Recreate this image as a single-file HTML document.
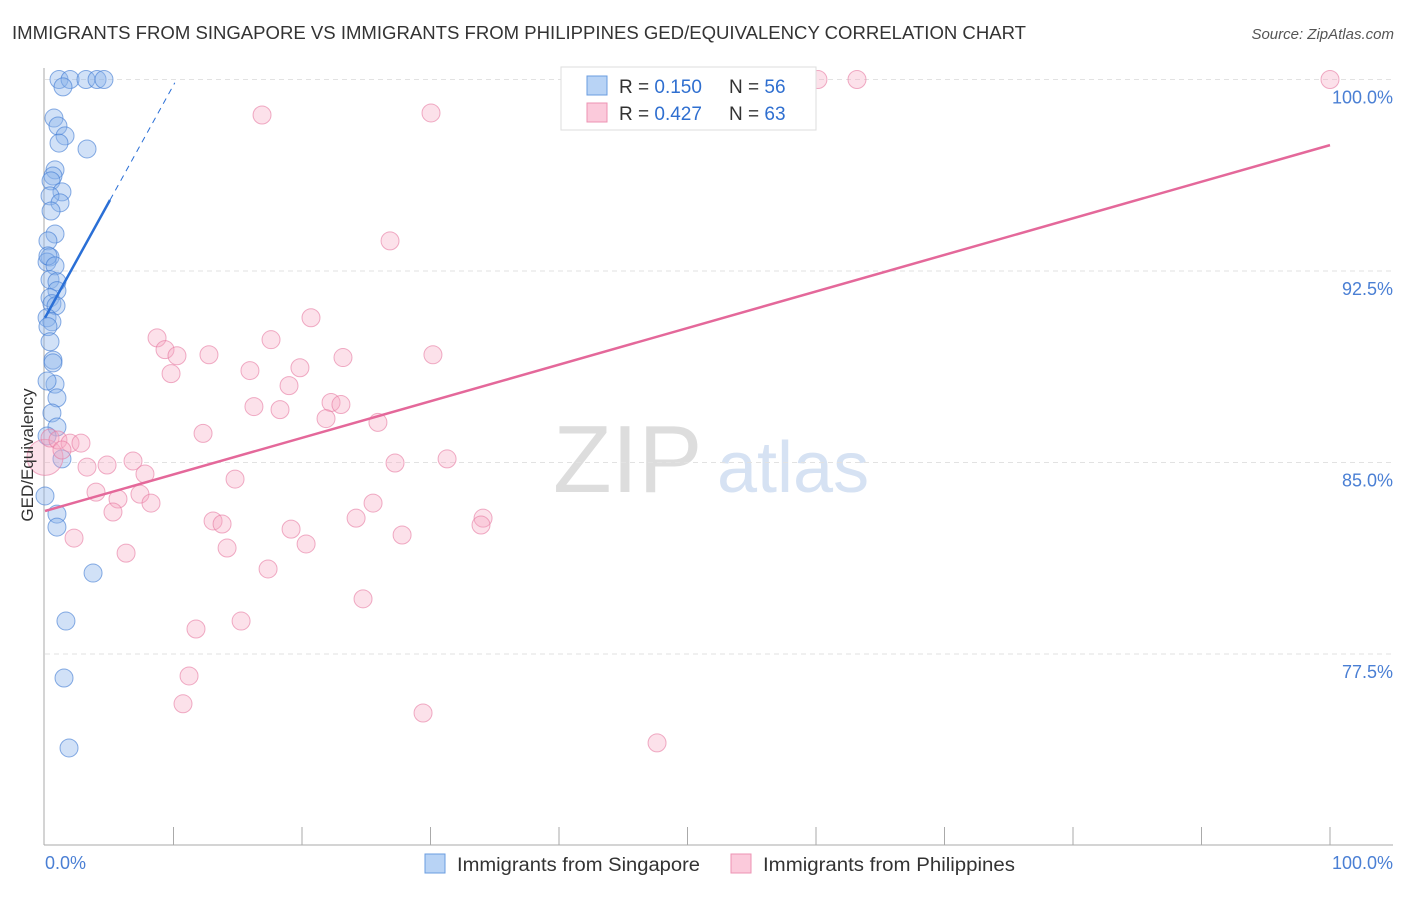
<!DOCTYPE html>
<html><head><meta charset="utf-8"><style>
body{margin:0;background:#fff;font-family:"Liberation Sans",sans-serif;}
svg text{font-family:"Liberation Sans",sans-serif;}
</style></head><body>
<svg id="chart" width="1406" height="892">
<text x="12" y="39" font-size="18" fill="#333" textLength="1014" lengthAdjust="spacingAndGlyphs">IMMIGRANTS FROM SINGAPORE VS IMMIGRANTS FROM PHILIPPINES GED/EQUIVALENCY CORRELATION CHART</text>
<text x="1394" y="39" font-size="15" fill="#555" font-style="italic" text-anchor="end">Source: ZipAtlas.com</text>
<g>
<text x="553" y="492" font-size="96" fill="#ddd" font-family="Liberation Serif">ZIP</text>
<text x="717" y="492" font-size="72" fill="#d6e2f3">atlas</text>
</g>
<g id="grid"></g><g id="axes"></g><g id="pts"></g><g id="trend"></g>
<text transform="translate(33,455) rotate(-90)" font-size="17" fill="#333" text-anchor="middle">GED/Equivalency</text>
<text x="45" y="869" font-size="18" fill="#4a7fd4">0.0%</text>
<text x="1393" y="869" font-size="18" fill="#4a7fd4" text-anchor="end">100.0%</text>
<g>
<rect x="561" y="67" width="255" height="63" fill="#fff" stroke="#ddd"/>
<rect x="587" y="76" width="20" height="19" fill="#b8d3f5" stroke="#6a9de0"/>
<rect x="587" y="103" width="20" height="19" fill="#fbcadb" stroke="#ec93b3"/>
<text x="619" y="93" font-size="19" fill="#333">R = <tspan fill="#2f6fd0">0.150</tspan></text>
<text x="729" y="93" font-size="19" fill="#333">N = <tspan fill="#2f6fd0">56</tspan></text>
<text x="619" y="120" font-size="19" fill="#333">R = <tspan fill="#2f6fd0">0.427</tspan></text>
<text x="729" y="120" font-size="19" fill="#333">N = <tspan fill="#2f6fd0">63</tspan></text>
</g>
<g><rect x="425" y="854" width="20" height="19" fill="#b8d3f5" stroke="#6a9de0"/><text x="457" y="871" font-size="19" fill="#333" textLength="243" lengthAdjust="spacingAndGlyphs">Immigrants from Singapore</text></g>
<g><rect x="731" y="854" width="20" height="19" fill="#fbcadb" stroke="#ec93b3"/><text x="763" y="871" font-size="19" fill="#333" textLength="252" lengthAdjust="spacingAndGlyphs">Immigrants from Philippines</text></g>
</svg>
<script>
const yTicks=[77.5,85.0,92.5,100.0];
const blueX=[1.09,1.95,3.19,4.05,4.59,1.40,0.70,1.01,1.56,1.09,3.27,0.78,0.62,0.47,1.32,0.39,1.17,0.47,0.78,0.23,0.39,0.16,0.23,0.78,0.39,0.93,0.93,0.39,0.54,0.86,0.16,0.54,0.23,0.39,0.62,0.62,0.78,0.16,0.93,0.54,0.93,0.16,1.32,0,0.93,0.93,3.74,1.63,1.48,1.87];
const blueY=[100,100,100,100,100,99.71,98.49,98.18,97.79,97.51,97.28,96.46,96.22,96.03,95.60,95.44,95.17,94.85,93.95,93.68,93.05,92.85,93.09,92.70,92.16,92.08,91.73,91.45,91.22,91.14,90.67,90.51,90.32,89.73,89.01,88.90,88.07,88.19,87.53,86.94,86.39,86.04,85.14,83.69,82.98,82.47,80.67,78.79,76.56,73.82];
const pinkX=[60.15,63.19,100,16.89,30.04,26.85,20.70,8.72,17.59,9.34,10.27,12.76,23.19,30.19,19.84,15.95,9.81,18.99,16.26,18.29,22.26,23.03,21.87,25.91,12.30,0,0.39,1.01,1.95,2.80,1.32,3.27,4.83,6.85,7.78,27.24,31.29,14.79,3.97,5.68,7.39,8.25,5.29,13.08,13.78,25.53,24.21,34.09,33.93,19.15,27.79,20.32,2.26,6.31,14.17,17.36,24.75,15.26,11.75,11.21,10.74,29.42,47.63];
const pinkY=[100,100,100,98.61,98.69,93.68,90.67,89.88,89.81,89.42,89.18,89.22,89.11,89.22,88.71,88.60,88.48,88.01,87.19,87.07,87.35,87.27,86.72,86.57,86.14,85.20,85.96,85.88,85.76,85.76,85.49,84.82,84.90,85.06,84.55,84.98,85.14,84.35,83.84,83.57,83.76,83.41,83.06,82.71,82.59,83.41,82.82,82.82,82.55,82.39,82.16,81.81,82.04,81.45,81.65,80.83,79.66,78.79,78.48,76.64,75.55,75.19,74.02];
const blueTrend=[90.67,95.28,5.06,10.1];
const pinkTrend=[83.10,97.43];
const X=v=>45+v*12.85, Y=v=>79.5+(100-v)*25.533;
const NS='http://www.w3.org/2000/svg';
function mk(t,a,p){const e=document.createElementNS(NS,t);for(const k in a)e.setAttribute(k,a[k]);p.appendChild(e);return e;}
const grid=document.getElementById('grid'),axes=document.getElementById('axes');
yTicks.forEach(t=>{
 const l=mk('line',{x1:45,x2:1393,y1:Y(t),y2:Y(t),stroke:'#e2e2e2','stroke-dasharray':'5,4'},grid);
 
 
 const tx=mk('text',{x:1393,y:Y(t)+24,'font-size':18,fill:'#4a7fd4','text-anchor':'end'},axes);
 tx.textContent=t.toFixed(1)+'%';
 
 
});
mk('line',{x1:44,x2:44,y1:68,y2:845,stroke:'#aaa'},axes);
mk('line',{x1:44,x2:1393,y1:845,y2:845,stroke:'#aaa'},axes);
for(let i=1;i<=10;i++){mk('line',{x1:X(i*10),x2:X(i*10),y1:827,y2:845,stroke:'#aaa'},axes);}
const pts=document.getElementById('pts');
blueX.forEach((v,i)=>{
 const c=mk('circle',{cx:X(v),cy:Y(blueY[i]),r:9,fill:'rgba(140,180,235,0.4)',stroke:'rgba(60,120,210,0.6)','stroke-width':1},pts);
 
 
});
pinkX.forEach((v,i)=>{
 const c=mk('circle',{cx:X(v),cy:Y(pinkY[i]),r:(v===0?18:9),fill:'rgba(245,170,195,0.35)',stroke:'rgba(230,120,160,0.6)','stroke-width':1},pts);
 
 
});
const tr=document.getElementById('trend');
const bs=(blueTrend[1]-blueTrend[0])/blueTrend[2];
const b1=mk('line',{x1:X(0),y1:Y(blueTrend[0]),x2:X(blueTrend[2]),y2:Y(blueTrend[1]),stroke:'#2a6fd6','stroke-width':2.5},tr);


const b2=mk('line',{x1:X(blueTrend[2]),y1:Y(blueTrend[1]),x2:X(blueTrend[3]),y2:Y(blueTrend[0]+bs*blueTrend[3]),stroke:'#2a6fd6','stroke-width':1,'stroke-dasharray':'6,5'},tr);


const p1=mk('line',{x1:X(0),y1:Y(pinkTrend[0]),x2:X(100),y2:Y(pinkTrend[1]),stroke:'#e4689a','stroke-width':2.5},tr);


</script>
</body></html>
